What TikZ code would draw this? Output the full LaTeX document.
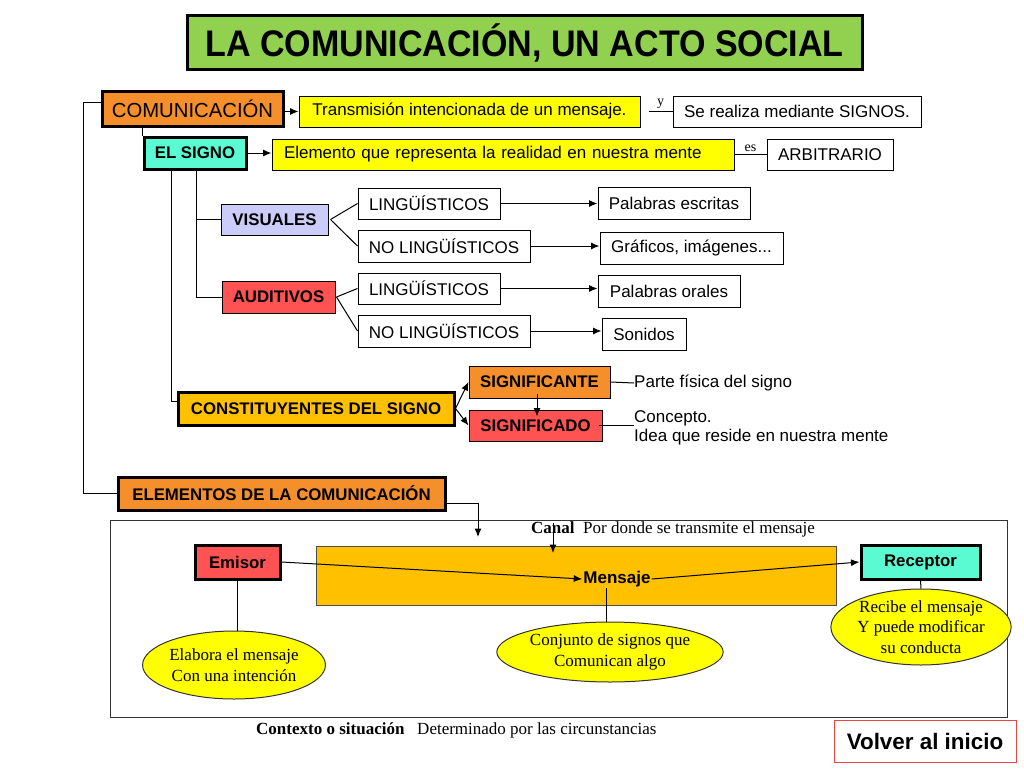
\documentclass[tikz,border=0pt]{standalone}
\usepackage{fontspec}
\setmainfont{Liberation Sans}
\newfontfamily\tnr{Liberation Serif}
\usetikzlibrary{shapes.geometric,arrows.meta}
\definecolor{corange}{RGB}{244,143,44}
\definecolor{cgold}{RGB}{255,192,0}
\definecolor{cred}{RGB}{255,82,82}
\definecolor{ccyan}{RGB}{90,250,210}
\definecolor{clav}{RGB}{204,204,250}
\definecolor{cyel}{RGB}{255,255,0}
\definecolor{cgreen}{RGB}{146,208,80}
\definecolor{cvolver}{RGB}{230,70,70}
\newcommand{\fs}[2]{\fontsize{#1}{#2}\selectfont}
\tikzset{
  bx/.style={draw=black, line width=1pt, inner sep=0pt, font=\fs{17}{20}},
  thickbx/.style={draw=black, line width=3pt, inner sep=0pt},
  boldlbl/.style={font=\fs{16.8}{20}\bfseries},
  ell/.style={ellipse, draw=black!80, line width=1pt, fill=cyel, inner sep=0pt, align=center, font=\tnr\fs{17}{20.5}},
  arr/.style={-{Latex[length=8.5pt,width=7pt]}, line width=1pt},
  ln/.style={line width=1pt},
}
\begin{document}
\begin{tikzpicture}[x=1pt,y=-1pt]
\useasboundingbox (0,0) rectangle (1024,768);
% title
\node[thickbx, fill=cgreen, minimum width=675, minimum height=53, font=\fs{37}{40}\bfseries] (title) at (524.5,42.5) {\scalebox{0.92}[1]{LA COMUNICACIÓN, UN ACTO SOCIAL}};
% top rows
\node[thickbx, fill=corange, minimum width=181, minimum height=35, font=\fs{20.3}{23}] (com) at (192.5,108.5) {COMUNICACIÓN};
\node[bx, fill=cyel, minimum width=341, minimum height=31] (trans) at (469.5,111.5) {Transmisión intencionada de un mensaje.};
\node[bx, fill=white, minimum width=248, minimum height=31] (sere) at (797,111.5) {Se realiza mediante SIGNOS.};
\node[thickbx, boldlbl, fill=ccyan, minimum width=102, minimum height=32] (signo) at (195,153) {EL SIGNO};
\node[bx, fill=cyel, minimum height=31, text width=438, inner xsep=12, align=left] (elem) at (503,154.5) {Elemento que representa la realidad en nuestra mente};
\node[bx, fill=white, minimum width=126, minimum height=31] (arb) at (830,154.5) {ARBITRARIO};
% signs
\node[bx, boldlbl, fill=clav, minimum width=107, minimum height=31] (vis) at (274.5,219.5) {VISUALES};
\node[bx, boldlbl, fill=cred, minimum width=113, minimum height=32] (aud) at (278.5,297) {AUDITIVOS};
\node[bx, fill=white, minimum width=142, minimum height=31] (l1) at (429,203.5) {LINGÜÍSTICOS};
\node[bx, fill=white, minimum width=172, minimum height=32] (nl1) at (444,246) {NO LINGÜÍSTICOS};
\node[bx, fill=white, minimum width=142, minimum height=31] (l2) at (429,288.5) {LINGÜÍSTICOS};
\node[bx, fill=white, minimum width=172, minimum height=32] (nl2) at (444,331) {NO LINGÜÍSTICOS};
\node[bx, fill=white, minimum width=152, minimum height=32] (pe) at (674,203) {Palabras escritas};
\node[bx, fill=white, minimum width=183, minimum height=32] (gi) at (691.5,248) {Gráficos, imágenes...};
\node[bx, fill=white, minimum width=142, minimum height=32] (po) at (669,291) {Palabras orales};
\node[bx, fill=white, minimum width=84, minimum height=32] (so) at (644,334) {Sonidos};
% constituents
\node[thickbx, boldlbl, fill=cgold, minimum width=276, minimum height=33] (cons) at (316,408.5) {CONSTITUYENTES DEL SIGNO};
\node[bx, boldlbl, fill=corange, minimum width=141, minimum height=32] (ste) at (539.5,382) {SIGNIFICANTE};
\node[bx, boldlbl, fill=cred, minimum width=133, minimum height=31] (sdo) at (535.5,425.5) {SIGNIFICADO};
\node[anchor=west, inner sep=0pt, font=\fs{17}{20}] (parte) at (634,383) {Parte física del signo};
\node[anchor=west, inner sep=0pt, align=left, font=\fs{17}{19}] (conc) at (634,428) {Concepto.\\Idea que reside en nuestra mente};
% elements
\node[thickbx, boldlbl, fill=corange, minimum width=327, minimum height=33] (elems) at (281.5,493.5) {ELEMENTOS DE LA COMUNICACIÓN};
\node[draw=black!80, line width=1pt, minimum width=897, minimum height=197, inner sep=0pt] (frame) at (558.5,618.5) {};
\node[draw=black!70, line width=1pt, fill=cgold, minimum width=520, minimum height=59, inner sep=0pt] (mrect) at (576,575.5) {};
\node[inner sep=1pt, font=\fs{17}{20}\bfseries] (msg) at (617,579) {Mensaje};
\node[thickbx, boldlbl, fill=cred, minimum width=85, minimum height=34] (emi) at (237.5,562) {Emisor};
\node[thickbx, boldlbl, fill=ccyan, minimum width=119, minimum height=34] (rec) at (920.5,562) {Receptor};
\node[ell, minimum width=144, minimum height=68] (e1) at (234,665) {Elabora el mensaje\\Con una intención};
\node[ell, minimum width=196, minimum height=60] (e2) at (610,652) {Conjunto de signos que\\Comunican algo};
\node[ell, minimum width=172, minimum height=76] (e3) at (921,627) {Recibe el mensaje\\Y puede modificar\\su conducta};
\node[anchor=base west, inner sep=0pt, font=\tnr\fs{17}{20}] (canal) at (531,533) {\textbf{Canal}\ \ Por donde se transmite el mensaje};
\node[anchor=base west, inner sep=0pt, font=\tnr\fs{17}{20}] (ctx) at (256,734) {\textbf{Contexto o situación}\ \ \ Determinado por las circunstancias};
\node[draw=cvolver, line width=1pt, fill=white, minimum width=182, minimum height=42, inner sep=0pt, font=\fs{22.4}{25}\bfseries] (volver) at (925,741) {Volver al inicio};
\coordinate (canaltop) at (553,523);
\coordinate (canalend) at (553,553);
\coordinate (elemsend) at (478,537);
% connectors
\draw[ln] ([yshift=-13]com.north west) -- ++(-17,0) |- (elems.west);
\draw[ln] (com.south -| signo.north west) -- (signo.north west);
\draw[arr] (com.east |- trans.west) -- (trans.west);
\draw[ln] ([xshift=8]trans.east) -- node[above=-1pt, font=\tnr\fs{14}{16}] {y} (sere.west);
\draw[arr] (signo.east) -- (signo.east -| elem.west);
\draw[ln] (elem.east) -- node[above=-1pt, font=\tnr\fs{14}{16}] {es} (arb.west);
\draw[ln] ([xshift=1]signo.south) |- (vis.west);
\draw[ln] ([xshift=1]signo.south) |- (aud.west);
\draw[ln] ([xshift=-24]signo.south) |- ([yshift=7.5]cons.west);
\draw[ln] ([xshift=2]vis.east) -- (l1.west);
\draw[ln] ([xshift=2]vis.east) -- (nl1.west);
\draw[ln] ([xshift=1]aud.east) -- (l2.west);
\draw[ln] ([xshift=1]aud.east) -- (nl2.west);
\draw[arr] (l1.east) -- (l1.east -| pe.west);
\draw[arr] (nl1.east) -- (nl1.east -| gi.west);
\draw[arr] (l2.east) -- (l2.east -| po.west);
\draw[arr] (nl2.east) -- (nl2.east -| so.west);
\draw[arr] (cons.east) -- (ste.west);
\draw[arr] (cons.east) -- (sdo.west);
\draw[arr] ([xshift=-2.5,yshift=5]ste.south) -- ([xshift=-2.5,yshift=-7]ste.south |- sdo.north);
\draw[ln] (ste.east) -- (parte.west);
\draw[ln] ([xshift=-4]sdo.east) -- (sdo.east -| conc.west);
\draw[arr] ([yshift=-9.5]elems.east) -| (elemsend);
\draw[arr] (canaltop) -- (canalend);
\draw[arr] (emi.east) -- (msg.west);
\draw[arr] (msg.east) -- (rec.west);
\draw[ln] (emi.south) -- (emi.south |- e1.north);
\draw[ln] ([xshift=-11]msg.south) -- ([xshift=-11]msg.south |- e2.north);
\draw[ln] (rec.south) -- (e3.north);
\end{tikzpicture}
\end{document}
